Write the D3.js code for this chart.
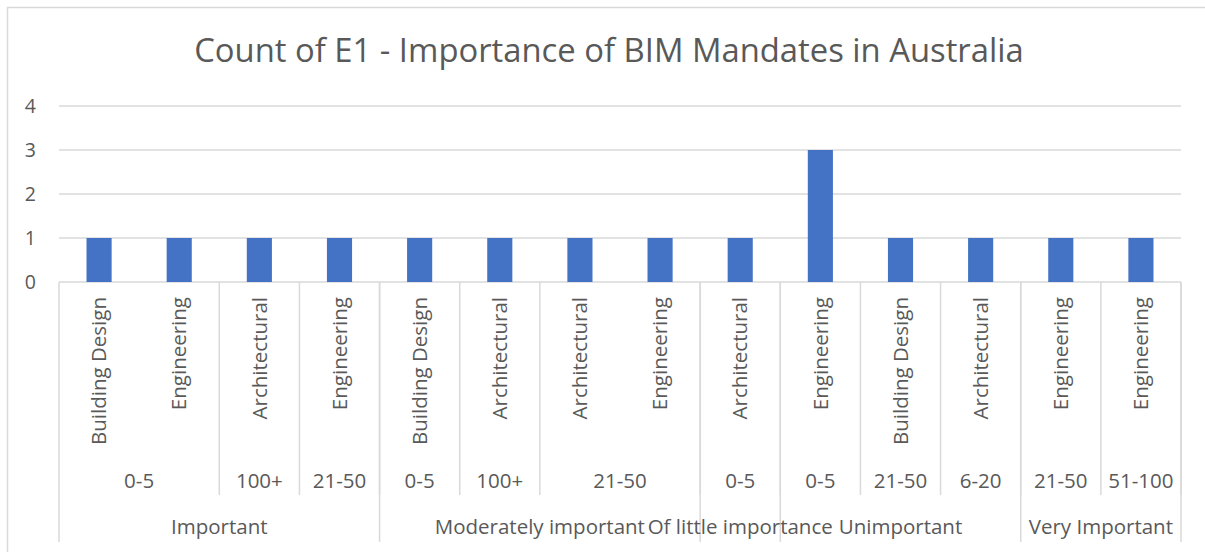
<!DOCTYPE html>
<html>
<head>
<meta charset="utf-8">
<script src="https://cdn.jsdelivr.net/npm/d3@7"></script>
<style>
  html, body { margin: 0; padding: 0; background: #fff; }
  svg { display: block; }
  text { font-family: "Open Sans", "Noto Sans", sans-serif; fill: #595959; }
</style>
</head>
<body>
<svg id="chart" width="1205" height="552"></svg>
<script>
// Innermost category: sector of each respondent group
const sectors = ["Building Design", "Engineering", "Architectural", "Engineering",
  "Building Design", "Architectural", "Architectural", "Engineering",
  "Architectural", "Engineering", "Building Design", "Architectural",
  "Engineering", "Engineering"];
// Middle category: organisation size
const sizes = ["0-5", "0-5", "100+", "21-50", "0-5", "100+", "21-50", "21-50",
  "0-5", "0-5", "21-50", "6-20", "21-50", "51-100"];
// Outer category: importance rating
const ratings = ["Important", "Important", "Important", "Important",
  "Moderately important", "Moderately important", "Moderately important", "Moderately important",
  "Of little importance", "Unimportant", "Unimportant", "Unimportant",
  "Very Important", "Very Important"];
// Count of E1 responses
const counts = [1, 1, 1, 1, 1, 1, 1, 1, 1, 3, 1, 1, 1, 1];
const yTicks = [0, 1, 2, 3, 4];

const svg = d3.select("#chart");
const W = 1205, H = 552;
const plot = { left: 59, right: 1181, top: 106, bottom: 282 };
const grid = "#d9d9d9";
const labelSize = 20.5;

// chart frame
svg.append("rect")
  .attr("x", 7.5).attr("y", 7.5)
  .attr("width", W + 10).attr("height", H + 10)
  .attr("fill", "#fff").attr("stroke", grid).attr("stroke-width", 1.5);

// title
svg.append("text")
  .attr("x", 609).attr("y", 62)
  .attr("text-anchor", "middle")
  .attr("font-size", 32.8)
  .text("Count of E1 - Importance of BIM Mandates in Australia");

const idx = d3.range(counts.length);
const x = d3.scaleBand().domain(idx).range([plot.left, plot.right]).paddingInner(0).paddingOuter(0);
const y = d3.scaleLinear().domain([0, 4]).range([plot.bottom, plot.top]);

// horizontal gridlines
svg.append("g")
  .selectAll("line").data(yTicks).join("line")
  .attr("x1", plot.left).attr("x2", plot.right)
  .attr("y1", d => y(d)).attr("y2", d => y(d))
  .attr("stroke", grid).attr("stroke-width", 1.5);

// y axis labels
const yAxis = d3.axisLeft(y).tickValues(yTicks).tickSize(0).tickPadding(0).tickFormat(d3.format("d"));
const yg = svg.append("g").attr("transform", `translate(36,0)`).call(yAxis);
yg.select(".domain").remove();
yg.selectAll("text")
  .attr("font-size", 19.5)
  .attr("fill", "#595959")
  .style("font-family", '"Open Sans", "Noto Sans", sans-serif');

// bars: gap width 219%
const barW = x.step() / 3.19;
svg.append("g")
  .selectAll("rect").data(idx).join("rect")
  .attr("x", i => x(i) + x.step() / 2 - barW / 2)
  .attr("width", barW)
  .attr("y", i => y(counts[i]))
  .attr("height", i => y(0) - y(counts[i]))
  .attr("fill", "#4472C4");

// rotated innermost labels
svg.append("g")
  .selectAll("text").data(idx).join("text")
  .attr("transform", i => `translate(${x(i) + x.step() / 2},297) rotate(-90)`)
  .attr("text-anchor", "end")
  .attr("dy", "0.35em")
  .attr("font-size", labelSize)
  .text(i => sectors[i]);

// group consecutive categories into runs
function runs(keyFn) {
  const out = [];
  idx.forEach(i => {
    const k = keyFn(i);
    const last = out[out.length - 1];
    if (last && last.key === k) last.end = i;
    else out.push({ key: k, start: i, end: i });
  });
  return out;
}
const outer = runs(i => ratings[i]);
const middle = runs(i => ratings[i] + "|" + sizes[i]);
middle.forEach(r => r.label = sizes[r.start]);
outer.forEach(r => r.label = ratings[r.start]);

const left = r => x(r.start);
const right = r => x(r.end) + x.step();

// separator lines for the middle level
svg.append("g")
  .selectAll("line").data(middle).join("line")
  .attr("x1", right).attr("x2", right)
  .attr("y1", plot.bottom).attr("y2", 495)
  .attr("stroke", grid).attr("stroke-width", 1.5);

// separator lines for the outer level
const outerEdges = [plot.left].concat(outer.map(right));
svg.append("g")
  .selectAll("line").data(outerEdges).join("line")
  .attr("x1", d => d).attr("x2", d => d)
  .attr("y1", plot.bottom).attr("y2", 542)
  .attr("stroke", grid).attr("stroke-width", 1.5);

// middle labels
svg.append("g")
  .selectAll("text").data(middle).join("text")
  .attr("x", r => (left(r) + right(r)) / 2)
  .attr("y", 488)
  .attr("text-anchor", "middle")
  .attr("font-size", labelSize)
  .text(r => r.label);

// outer labels
svg.append("g")
  .selectAll("text").data(outer).join("text")
  .attr("x", r => (left(r) + right(r)) / 2)
  .attr("y", 534)
  .attr("text-anchor", "middle")
  .attr("font-size", labelSize)
  .text(r => r.label);
</script>
</body>
</html>
